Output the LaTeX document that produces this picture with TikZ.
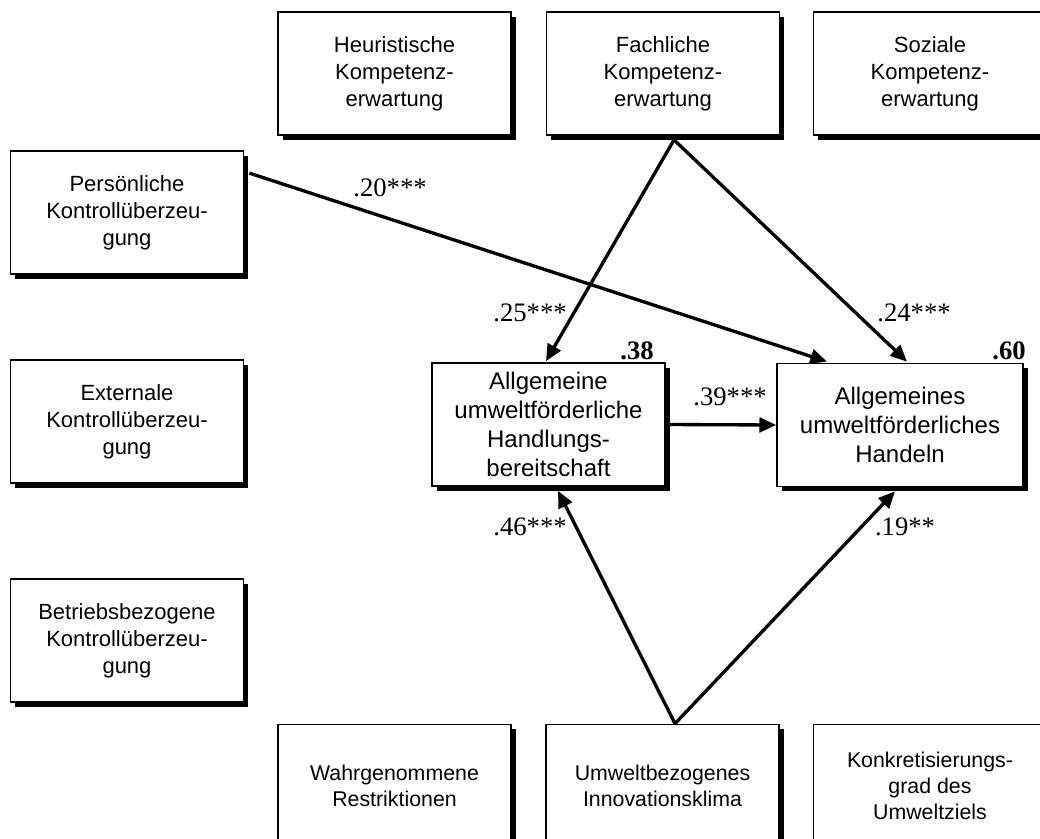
\documentclass[tikz,border=0pt]{standalone}
\usepackage{fontspec}
\setmainfont{Liberation Sans}
\newfontfamily\coeffont{Liberation Serif}
\usetikzlibrary{arrows.meta,shadows,calc}

\tikzset{
  box/.style={draw, line width=1.3pt, fill=white, align=center, inner sep=0pt,
    minimum width=174.75pt, minimum height=92.25pt,
    font=\fontsize{16.5}{20.25}\selectfont,
    drop shadow={shadow xshift=3.6pt, shadow yshift=-3.6pt, fill=black, opacity=1}},
  mainbox/.style={box, font=\fontsize{18}{21.75}\selectfont},
  lowbox/.style={box, font=\fontsize{16}{19.5}\selectfont},
  path/.style={line width=2.5pt, -{Triangle[length=12.5pt,width=11pt]}},
  coef/.style={font=\coeffont\fontsize{20}{24}\selectfont, inner sep=0pt},
  rsq/.style={font=\coeffont\bfseries\fontsize{20}{24}\selectfont, inner sep=0pt}
}

\begin{document}
\begin{tikzpicture}[x=0.75pt, y=-0.75pt]
\useasboundingbox (0,0) rectangle (1040,839);
\clip (0,0) rectangle (1040,839);

% competence expectations (top row)
\node[box] (hk) at (394.5,73.5) {Heuristische\\Kompetenz-\\erwartung};
\node[box] (fk) at (663,73.5) {Fachliche\\Kompetenz-\\erwartung};
\node[box] (sk) at (930,73.5) {Soziale\\Kompetenz-\\erwartung};

% control beliefs (left column)
\node[box] (pk) at (127,212.5) {Persönliche\\Kontrollüberzeu-\\gung};
\node[box] (ek) at (127,421.5) {Externale\\Kontrollüberzeu-\\gung};
\node[box] (bk) at (127,640.5) {Betriebsbezogene\\Kontrollüberzeu-\\gung};

% organisational context (bottom row)
\node[lowbox] (wr) at (394.5,786) {Wahrgenommene\\Restriktionen};
\node[lowbox] (ui) at (662.5,786) {Umweltbezogenes\\Innovationsklima};
\node[lowbox] (kg) at (930,786) {Konkretisierungs-\\grad des\\Umweltziels};

% outcome variables
\node[mainbox] (hb) at (548.5,424.5) {Allgemeine\\umweltförderliche\\Handlungs-\\bereitschaft};
\node[mainbox, minimum width=184.5pt] (hd) at (900,425) {Allgemeines\\umweltförderliches\\Handeln};

% branching points
\coordinate (fa) at ($(fk.south)+(11,4)$);
\coordinate (ua) at ($(ui.north)+(12.5,0)$);

% paths
\draw[path] ($(pk.north east)+(5,23)$) -- ($(hd.north)+(-73,-1)$);
\draw[path] (fa) -- ($(hb.north)+(-2.5,-1)$);
\draw[path] (fa) -- ($(hd.north)+(7,-1)$);
\draw[path] (hb.east) -- (hd.west);
\draw[path] (ua) -- ($(hb.south)+(9.5,4)$);
\draw[path] (ua) -- ($(hd.south)+(-5,4)$);

% path coefficients
\node[coef] (c20) at (390,188) {.20***};
\node[coef] (c25) at (530,313) {.25***};
\node[coef] (c24) at (914,313) {.24***};
\node[coef] (c39) at (730,397) {.39***};
\node[coef] (c46) at (530,527) {.46***};
\node[coef] (c19) at (905,527) {.19**};

% explained variance
\node[rsq, anchor=south east] (r38) at (654,360) {.38};
\node[rsq, anchor=south east] (r60) at (1026,360) {.60};
\end{tikzpicture}
\end{document}
